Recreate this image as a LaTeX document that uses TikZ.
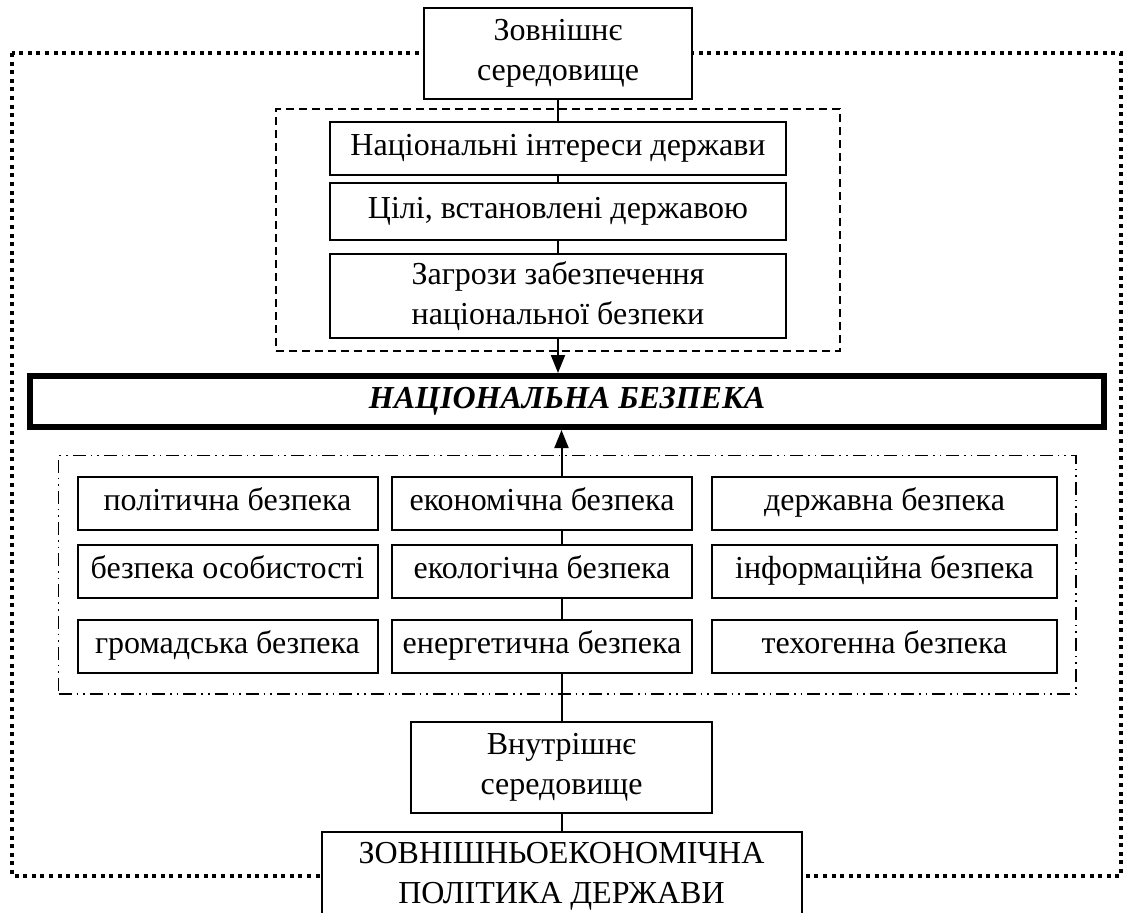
\documentclass[tikz,border=0pt]{standalone}
\usepackage{fontspec}
\setmainfont{Liberation Serif}
\usetikzlibrary{arrows.meta,positioning,fit,backgrounds}
\tikzstyle{box} = [rectangle, minimum width=134pt, minimum height=45.5pt, text centered, align=center, inner sep=2pt, draw=black, line width=1pt, fill=white, font=\fontsize{16}{20}\selectfont]
\tikzstyle{factor} = [box, minimum width=228pt, minimum height=26.5pt, text height=11pt, text depth=4pt]
\tikzstyle{kind} = [box, minimum width=150pt, minimum height=26.5pt, text height=11pt, text depth=4pt]
\tikzstyle{widekind} = [kind, minimum width=172.5pt]
\tikzstyle{mainbox} = [box, line width=3pt, minimum width=537pt, minimum height=25.5pt, text height=11pt, text depth=4pt, font=\fontsize{16}{20}\selectfont\bfseries\itshape]
\tikzstyle{dashframe} = [draw=black, line width=0.6pt, dash pattern=on 4pt off 2.5pt]
\tikzstyle{dotdashframe} = [draw=black, line width=0.6pt, dash pattern=on 6.5pt off 2.5pt on 0.8pt off 2.5pt on 0.8pt off 2.5pt]
\tikzstyle{outerframe} = [line width=2pt, dash pattern=on 2pt off 2.3pt]
\tikzstyle{link} = [line width=1pt]
\tikzstyle{arrow} = [line width=1pt, -{Triangle[length=9pt,width=7pt]}]

\begin{document}
\begin{tikzpicture}[node distance = 30pt]
	\useasboundingbox (0,0) rectangle (562.5pt,-456pt);
	\node (ext) [box] at (279pt,-26.5pt) {Зовнішнє\\середовище};
	\node (nat) [factor, below of = ext, yshift = -17.75pt] {Національні інтереси держави};
	\node (goal) [factor, minimum height = 28.5pt, below of = nat, yshift = -1.5pt] {Цілі, встановлені державою};
	\node (threat) [box, minimum width = 228pt, minimum height = 42pt, below of = goal, yshift = -12.25pt] {Загрози забезпечення\\національної безпеки};
	\node (nb) [mainbox, below of = threat, xshift = 4.5pt, yshift = -22.75pt] {НАЦІОНАЛЬНА БЕЗПЕКА};
	\node (econ) [kind, below of = nb, xshift = -12.5pt, yshift = -20.75pt] {економічна безпека};
	\node (eco) [kind, below of = econ, yshift = -4.25pt] {екологічна безпека};
	\node (energy) [kind, below of = eco, yshift = -7.5pt] {енергетична безпека};
	\node (pol) [kind, left of = econ, xshift = -127.25pt] {політична безпека};
	\node (person) [kind, left of = eco, xshift = -127.25pt] {безпека особистості};
	\node (public) [kind, left of = energy, xshift = -127.25pt] {громадська безпека};
	\node (state) [widekind, right of = econ, xshift = 141.25pt] {державна безпека};
	\node (info) [widekind, right of = eco, xshift = 141.25pt] {інформаційна безпека};
	\node (tech) [widekind, right of = energy, xshift = 141.25pt] {техогенна безпека};
	\node (inner) [box, minimum width = 150.5pt, below of = energy, xshift = 9.75pt, yshift = -30.5pt] {Внутрішнє\\середовище};
	\node (policy) [box, minimum width = 240pt, minimum height = 44pt, below of = inner, yshift = -24.25pt] {ЗОВНІШНЬОЕКОНОМІЧНА\\ПОЛІТИКА ДЕРЖАВИ};
	\node (threatframe) [dashframe, fit = (nat) (goal) (threat), inner xsep = 26.5pt, inner ysep = 6pt] {};
	\node (kindframe) [dotdashframe, fit = (pol) (state) (public) (tech), inner xsep = 9pt, inner ysep = 10pt] {};
	
	\begin{scope}[on background layer]
	\draw [outerframe] (6pt,0 |- ext) rectangle (560.5pt,0 |- policy);
	\end{scope}
	
	\draw [link] (ext) -- (nat);
	\draw [link] (nat) -- (goal);
	\draw [link] (goal) -- (threat);
	\draw [arrow] (threat.south) -- (threat.south |- nb.north);
	\draw [link] (inner) -- (policy);
	\draw [link] (inner.north) -- (inner.north |- energy.south);
	\draw [link] (inner.north |- energy.north) -- (inner.north |- eco.south);
	\draw [link] (inner.north |- eco.north) -- (inner.north |- econ.south);
	\draw [arrow] (inner.north |- econ.north) -- (inner.north |- nb.south);
\end{tikzpicture}
\end{document}
